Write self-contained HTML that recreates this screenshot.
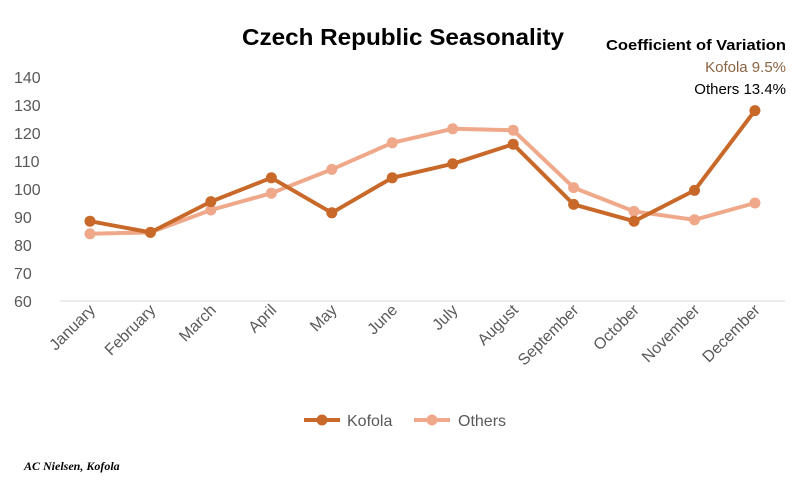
<!DOCTYPE html>
<html><head><meta charset="utf-8"><style>
body{margin:0;background:#fff;}
svg text{font-family:"Liberation Sans",sans-serif;}
</style></head><body>
<svg width="809" height="484" viewBox="0 0 809 484" xmlns="http://www.w3.org/2000/svg">
<text x="403" y="45" text-anchor="middle" font-size="23" font-weight="bold" fill="#000" textLength="322" lengthAdjust="spacingAndGlyphs">Czech Republic Seasonality</text>
<text x="786" y="50" text-anchor="end" font-size="15" font-weight="bold" fill="#000" textLength="180" lengthAdjust="spacingAndGlyphs">Coefficient of Variation</text>
<text x="786" y="72" text-anchor="end" font-size="15" fill="#8B6442">Kofola 9.5%</text>
<text x="786" y="94" text-anchor="end" font-size="15" fill="#000">Others 13.4%</text>
<g id="yaxis"></g>
<g id="xaxis"></g>
<g id="series"></g>
<g>
<g>
<line x1="304" y1="420" x2="340" y2="420" stroke="#C8692A" stroke-width="4"/>
<circle cx="322" cy="420" r="5.5" fill="#C8692A"/>
<text x="347" y="426" font-size="16" fill="#595959">Kofola</text></g>
<g>
<line x1="414" y1="420" x2="450" y2="420" stroke="#EFA98A" stroke-width="4"/>
<circle cx="432" cy="420" r="5.5" fill="#EFA98A"/>
<text x="458" y="426" font-size="16" fill="#595959">Others</text></g>
</g>
<text x="24" y="470" style="font-family:'Liberation Serif',serif;font-size:12px;font-weight:bold;font-style:italic" fill="#000">AC Nielsen, Kofola</text>
</svg>
<script>
const categories=["January","February","March","April","May","June","July","August","September","October","November","December"];
const kofola=[88.5,84.5,95.5,104,91.5,104,109,116,94.5,88.5,99.5,128];
const others=[84,84.5,92.5,98.5,107,116.5,121.5,121,100.5,92,89,95];
const yTicks=[60,70,80,90,100,110,120,130,140];
const NS="http://www.w3.org/2000/svg";
const y=v=>301-(v-60)*2.8;
const x=i=>90+i*60.45;
function mk(t,a,p){const e=document.createElementNS(NS,t);for(const k in a)e.setAttribute(k,a[k]);p.appendChild(e);return e;}
const ya=document.getElementById('yaxis'),xa=document.getElementById('xaxis'),sg=document.getElementById('series');
yTicks.forEach(v=>{const t=mk('text',{x:14,y:y(v)+6,'font-size':16,fill:'#595959'},ya);t.textContent=v;

});
const ax=mk('line',{x1:60,y1:301,x2:785,y2:301,stroke:'#d9d9d9','stroke-width':1},xa);


categories.forEach((c,i)=>{const t=mk('text',{x:x(i)+6,y:311,'font-size':16,fill:'#595959','text-anchor':'end',transform:`rotate(-45 ${x(i)+6} 311)`},xa);t.textContent=c;

});
function draw(vals,color,name){
const p=mk('polyline',{points:vals.map((v,i)=>x(i)+','+y(v)).join(' '),fill:'none',stroke:color,'stroke-width':4,'stroke-linejoin':'round'},sg);


vals.forEach((v,i)=>{const c=mk('circle',{cx:x(i),cy:y(v),r:5.5,fill:color},sg);

});}
draw(others,'#EFA98A','others');
draw(kofola,'#C8692A','kofola');
</script>
</body></html>
